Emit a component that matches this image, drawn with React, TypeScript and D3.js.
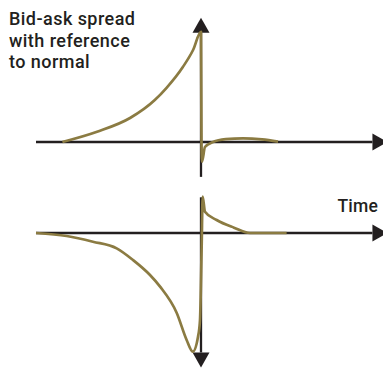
import React from "react";
import * as d3 from "d3";

// time runs from -100 (left edge) to ~113 (arrow tip), event at 0
const timeAxis = [-100, 113];

// bid-ask spread (top panel), relative to normal
const spreadTime = [-84, -63, -43, -28, -21, -11, -4.8, 0, 0.3, 0.6, 2.4, 7.3, 15, 25.5, 37, 46.7];
const spreadValue = [0, 9.4, 22, 38.5, 49.5, 68.8, 84.4, 101, 0, -18, -4.6, 0, 2.6, 3.4, 2.4, 0.3];
const spreadAxis = [-32, 114];

// second series (bottom panel)
const depthTime = [-100, -81.4, -65.5, -51.1, -41.2, -30.9, -24.8, -14.7, -8.7, -5, -1.8, -0.6, 0.4, 1, 2.4, 9.5, 20, 29.7, 51.9];
const depthValue = [0, -2.5, -7.3, -12.9, -22.7, -35.3, -45.1, -67.2, -89.9, -99.7, -87.1, -73.1, -11.5, 30.5, 17.9, 10.9, 4.5, 0, 0];
const depthAxis = [30, -113];

const titleLines = ["Bid-ask spread", "with reference", "to normal"];
const xLabel = "Time";

const W = 383;
const H = 369;
const ink = "#231f20";
const gold = "#8b7b42";
const font = "Roboto, 'Liberation Sans', Arial, sans-serif";

const x = d3.scaleLinear().domain([-100, 0]).range([36, 201]);
const yTop = d3.scaleLinear().domain([0, 100]).range([142, 33]);
const yBot = d3.scaleLinear().domain([0, -100]).range([233, 352]);

const HEAD = 15;
const HALF = 8.5;

function Arrow({ x1, y1, x2, y2 }: { x1: number; y1: number; x2: number; y2: number }) {
  const len = Math.hypot(x2 - x1, y2 - y1);
  const ux = (x2 - x1) / len;
  const uy = (y2 - y1) / len;
  const bx = x2 - ux * HEAD;
  const by = y2 - uy * HEAD;
  const pts = [
    [x2, y2],
    [bx - uy * HALF, by + ux * HALF],
    [bx + uy * HALF, by - ux * HALF],
  ];
  return (
    <g>
      <line x1={x1} y1={y1} x2={bx} y2={by} stroke={ink} strokeWidth={2.3} />
      <polygon points={pts.map((p) => p.join(",")).join(" ")} fill={ink} />
    </g>
  );
}

export default function App() {
  const lineTop = d3
    .line<number>()
    .x((d, i) => x(spreadTime[i]))
    .y((d) => yTop(d))
    .curve(d3.curveMonotoneX);
  const lineBot = d3
    .line<number>()
    .x((d, i) => x(depthTime[i]))
    .y((d) => yBot(d))
    .curve(d3.curveMonotoneX);

  return (
    <svg
      width={W}
      height={H}
      style={{ position: "absolute", left: 0, top: 0, background: "#fff" }}
    >
      {/* top panel axes */}
      <Arrow x1={x(timeAxis[0])} y1={yTop(0)} x2={x(timeAxis[1])} y2={yTop(0)} />
      <Arrow x1={x(0)} y1={yTop(spreadAxis[0])} x2={x(0)} y2={yTop(spreadAxis[1])} />
      {/* bottom panel axes */}
      <Arrow x1={x(timeAxis[0])} y1={yBot(0)} x2={x(timeAxis[1])} y2={yBot(0)} />
      <Arrow x1={x(0)} y1={yBot(depthAxis[0])} x2={x(0)} y2={yBot(depthAxis[1])} />

      <path d={lineTop(spreadValue) || ""} fill="none" stroke={gold} strokeWidth={2.7} strokeLinejoin="round" />
      <path d={lineBot(depthValue) || ""} fill="none" stroke={gold} strokeWidth={2.7} strokeLinejoin="round" />

      <text fontFamily={font} fontWeight={500} fontSize={18} letterSpacing={0.45} fill={ink}>
        {titleLines.map((t, i) => (
          <tspan key={t} x={9} y={25 + i * 21.6}>
            {t}
          </tspan>
        ))}
      </text>
      <text x={378} y={212} textAnchor="end" fontFamily={font} fontWeight={500} fontSize={17.5} letterSpacing={0.2} fill={ink}>
        {xLabel}
      </text>
    </svg>
  );
}
